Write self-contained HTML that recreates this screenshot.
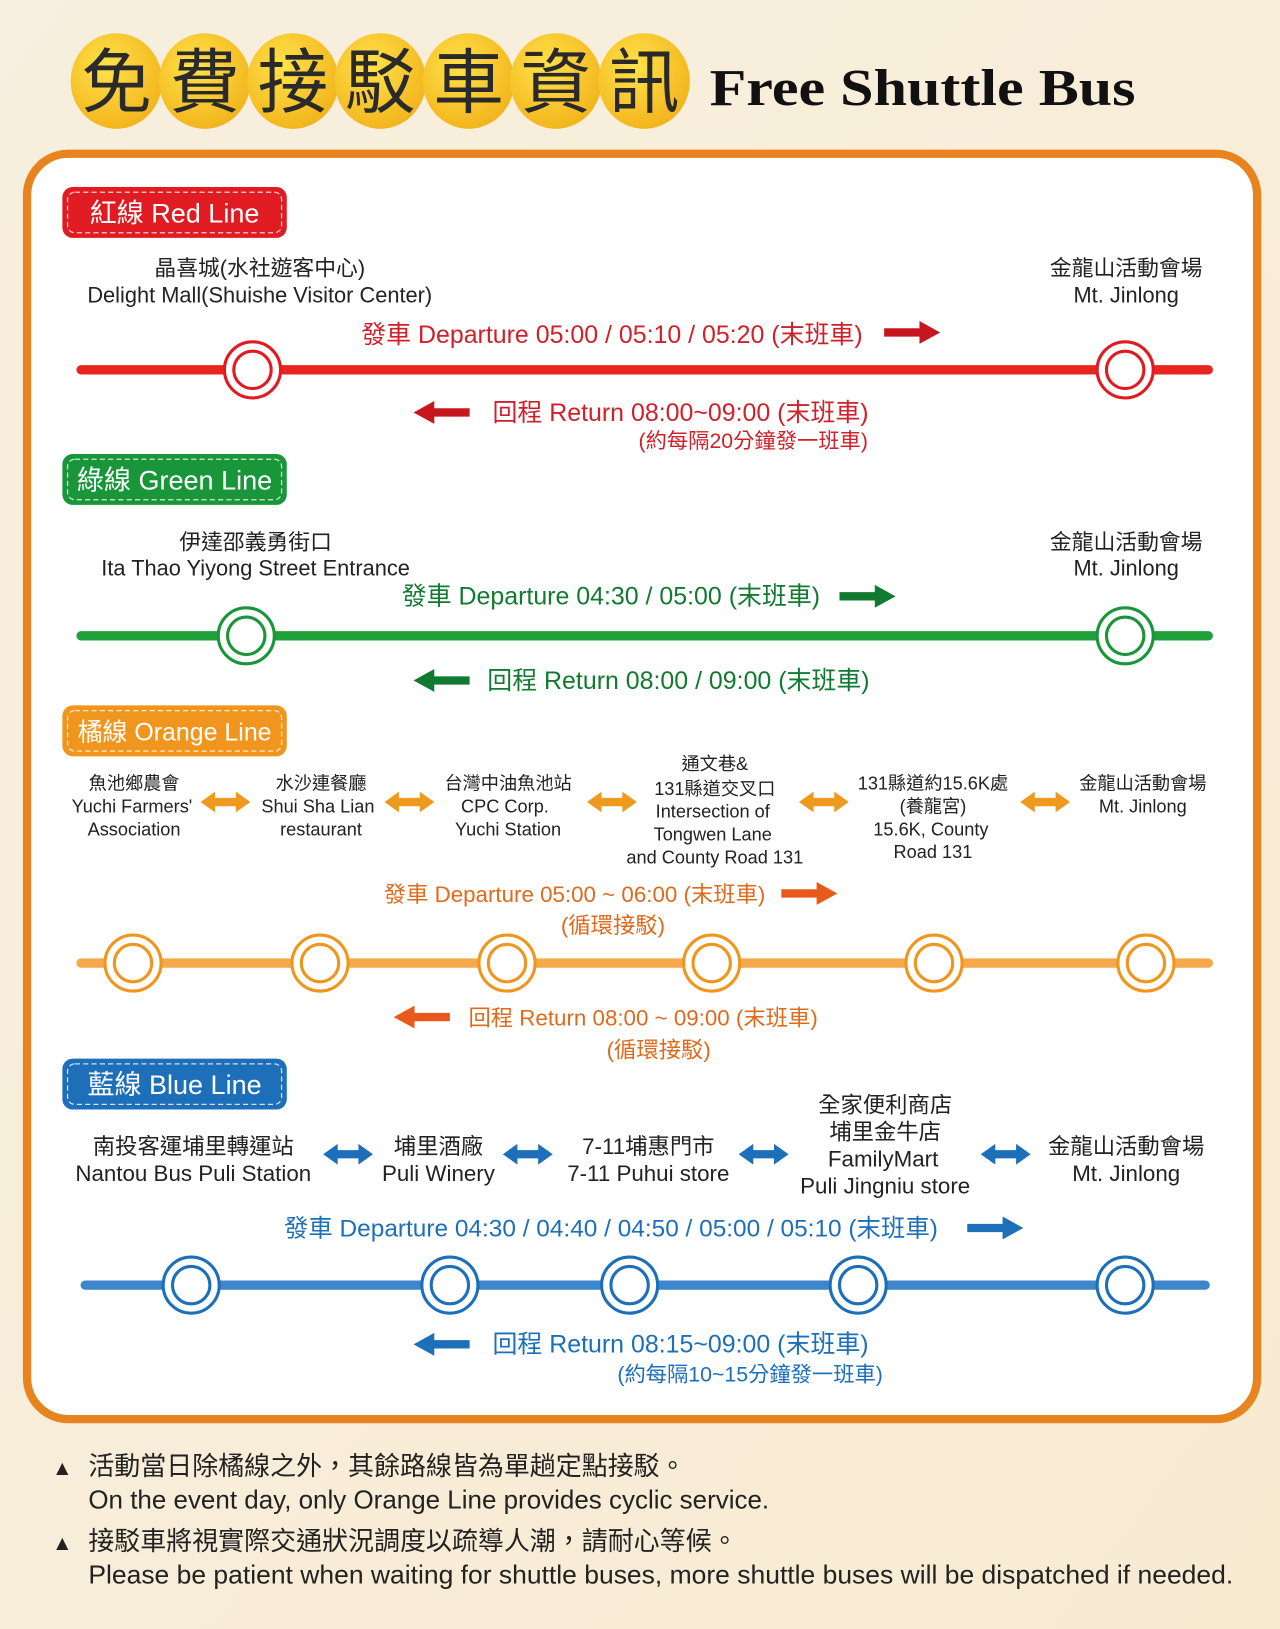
<!DOCTYPE html>
<html><head><meta charset="utf-8"><style>
html,body{margin:0;padding:0;width:1280px;height:1629px;overflow:hidden;background:#f8efdb}
svg{display:block}
text{font-family:"Liberation Sans","Noto Sans CJK TC",sans-serif}
</style></head><body>
<svg width="1280" height="1629" viewBox="0 0 1232 1568" xmlns="http://www.w3.org/2000/svg">
<defs>
<linearGradient id="bg" x1="0" y1="0" x2="1" y2="1"><stop offset="0" stop-color="#f7efdf"/><stop offset="1" stop-color="#f8ebd2"/></linearGradient>
<radialGradient id="yb" cx="0.4" cy="0.35" r="0.7"><stop offset="0" stop-color="#ffe24a"/><stop offset="1" stop-color="#f2b21a"/></radialGradient>
<path id="ra" d="M0,-4 L34,-4 L34,-11 L54,0 L34,11 L34,4 L0,4 Z"/>
<path id="la" d="M0,-4 L-34,-4 L-34,-11 L-54,0 L-34,11 L-34,4 L0,4 Z"/>
<path id="da" d="M0,0 L14,-10 L14,-4 L34,-4 L34,-10 L48,0 L34,10 L34,4 L14,4 L14,10Z"/>
</defs>
<rect width="1232" height="1568" fill="url(#bg)"/>
<g fill="url(#yb)">
<ellipse cx="112" cy="78" rx="44" ry="46"/><ellipse cx="197" cy="78" rx="44" ry="46"/><ellipse cx="282" cy="78" rx="44" ry="46"/><ellipse cx="366" cy="78" rx="44" ry="46"/><ellipse cx="451" cy="78" rx="44" ry="46"/><ellipse cx="535" cy="78" rx="44" ry="46"/><ellipse cx="620" cy="78" rx="44" ry="46"/>
</g>
<g font-size="68" fill="#2a2a2a" text-anchor="middle">
<text x="112" y="103">免</text><text x="197" y="103">費</text><text x="282" y="103">接</text><text x="366" y="103">駁</text><text x="451" y="103">車</text><text x="535" y="103">資</text><text x="620" y="103">訊</text>
</g>
<text x="683" y="101" style="font-family:'Liberation Serif',serif" font-size="50" font-weight="bold" fill="#111" textLength="410" lengthAdjust="spacingAndGlyphs">Free Shuttle Bus</text>
<rect x="26" y="148" width="1184" height="1218" rx="40" fill="#fff" stroke="#e8841f" stroke-width="8"/>

<!-- RED -->
<rect x="60" y="180" width="216" height="49" rx="10" fill="#e01b22"/>
<rect x="65" y="185" width="206" height="39" rx="7" fill="none" stroke="#fff" stroke-width="1.2" stroke-dasharray="5,3" opacity=".8"/>
<text x="168" y="214" font-size="26" fill="#fff" text-anchor="middle">紅線 Red Line</text>
<g font-size="21" fill="#222" text-anchor="middle">
<text x="250" y="265">晶喜城(水社遊客中心)</text><text x="250" y="291">Delight Mall(Shuishe Visitor Center)</text>
<text x="1084" y="265">金龍山活動會場</text><text x="1084" y="291">Mt. Jinlong</text>
</g>
<text x="589" y="330" font-size="24" fill="#d0202a" text-anchor="middle">發車 Departure  05:00 / 05:10 / 05:20 (末班車)</text>
<use href="#ra" x="851" y="320" fill="#c8161e"/>
<line x1="78" y1="356" x2="1163" y2="356" stroke="#e8261f" stroke-width="9" stroke-linecap="round"/>
<g fill="#fff" stroke="#e01b22" stroke-width="3"><circle cx="243" cy="356" r="27"/><circle cx="243" cy="356" r="18"/><circle cx="1083" cy="356" r="27"/><circle cx="1083" cy="356" r="18"/></g>
<use href="#la" x="452" y="397" fill="#c8161e"/>
<text x="655" y="405" font-size="24" fill="#d0202a" text-anchor="middle">回程 Return 08:00~09:00 (末班車)</text>
<text x="725" y="431" font-size="20.5" fill="#d0202a" text-anchor="middle">(約每隔20分鐘發一班車)</text>

<!-- GREEN -->
<rect x="60" y="437" width="216" height="49" rx="10" fill="#19963a"/>
<rect x="65" y="442" width="206" height="39" rx="7" fill="none" stroke="#fff" stroke-width="1.2" stroke-dasharray="5,3" opacity=".8"/>
<text x="168" y="471" font-size="26" fill="#fff" text-anchor="middle">綠線 Green Line</text>
<g font-size="21" fill="#222" text-anchor="middle">
<text x="246" y="529">伊達邵義勇街口</text><text x="246" y="554">Ita Thao Yiyong Street Entrance</text>
<text x="1084" y="529">金龍山活動會場</text><text x="1084" y="554">Mt. Jinlong</text>
</g>
<text x="588" y="582" font-size="24" fill="#127a30" text-anchor="middle">發車 Departure 04:30 / 05:00 (末班車)</text>
<use href="#ra" x="808" y="574" fill="#127a30"/>
<line x1="78" y1="612" x2="1163" y2="612" stroke="#1fa03a" stroke-width="9" stroke-linecap="round"/>
<g fill="#fff" stroke="#19963a" stroke-width="3"><circle cx="237" cy="612" r="27"/><circle cx="237" cy="612" r="18"/><circle cx="1083" cy="612" r="27"/><circle cx="1083" cy="612" r="18"/></g>
<use href="#la" x="452" y="655" fill="#127a30"/>
<text x="653" y="663" font-size="24" fill="#127a30" text-anchor="middle">回程 Return 08:00 / 09:00 (末班車)</text>

<!-- ORANGE -->
<rect x="60" y="679" width="216" height="49" rx="10" fill="#f0961e"/>
<rect x="65" y="684" width="206" height="39" rx="7" fill="none" stroke="#fff" stroke-width="1.2" stroke-dasharray="5,3" opacity=".8"/>
<text x="168" y="713" font-size="24" fill="#fff" text-anchor="middle">橘線 Orange Line</text>
<g font-size="17.5" fill="#222" text-anchor="middle">
<text x="129" y="760">魚池鄉農會</text><text x="127" y="782">Yuchi Farmers'</text><text x="129" y="804">Association</text>
<text x="309" y="760">水沙連餐廳</text><text x="306" y="782">Shui Sha Lian</text><text x="309" y="804">restaurant</text>
<text x="489" y="760">台灣中油魚池站</text><text x="486" y="782">CPC Corp.</text><text x="489" y="804">Yuchi Station</text>
<text x="688" y="741">通文巷&amp;</text><text x="688" y="765">131縣道交叉口</text><text x="686" y="787">Intersection of</text><text x="686" y="809">Tongwen Lane</text><text x="688" y="831">and County Road 131</text>
<text x="898" y="760">131縣道約15.6K處</text><text x="898" y="782">(養龍宮)</text><text x="896" y="804">15.6K, County</text><text x="898" y="826">Road 131</text>
<text x="1100" y="760">金龍山活動會場</text><text x="1100" y="782">Mt. Jinlong</text>
</g>
<g fill="#ee9a1e"><use href="#da" x="193" y="772"/><use href="#da" x="370" y="772"/><use href="#da" x="565" y="772"/><use href="#da" x="769" y="772"/><use href="#da" x="982" y="772"/></g>
<text x="553" y="868" font-size="21.5" fill="#e06a1c" text-anchor="middle">發車 Departure 05:00 ~ 06:00 (末班車)</text>
<use href="#ra" x="752" y="860" fill="#e85a1c"/>
<text x="590" y="898" font-size="21.5" fill="#e06a1c" text-anchor="middle">(循環接駁)</text>
<line x1="78" y1="927" x2="1163" y2="927" stroke="#f6a84a" stroke-width="9" stroke-linecap="round"/>
<g fill="#fff" stroke="#f0961e" stroke-width="3"><circle cx="128" cy="927" r="27"/><circle cx="128" cy="927" r="18"/><circle cx="308" cy="927" r="27"/><circle cx="308" cy="927" r="18"/><circle cx="488" cy="927" r="27"/><circle cx="488" cy="927" r="18"/><circle cx="685" cy="927" r="27"/><circle cx="685" cy="927" r="18"/><circle cx="899" cy="927" r="27"/><circle cx="899" cy="927" r="18"/><circle cx="1103" cy="927" r="27"/><circle cx="1103" cy="927" r="18"/></g>
<use href="#la" x="433" y="979" fill="#e85a1c"/>
<text x="619" y="987" font-size="21.5" fill="#e06a1c" text-anchor="middle">回程 Return 08:00 ~ 09:00 (末班車)</text>
<text x="634" y="1018" font-size="21.5" fill="#e06a1c" text-anchor="middle">(循環接駁)</text>

<!-- BLUE -->
<rect x="60" y="1019" width="216" height="49" rx="10" fill="#1c6fb8"/>
<rect x="65" y="1024" width="206" height="39" rx="7" fill="none" stroke="#fff" stroke-width="1.2" stroke-dasharray="5,3" opacity=".8"/>
<text x="168" y="1053" font-size="26" fill="#fff" text-anchor="middle">藍線 Blue Line</text>
<g font-size="21.5" fill="#222" text-anchor="middle">
<text x="186" y="1111">南投客運埔里轉運站</text><text x="186" y="1137">Nantou Bus Puli Station</text>
<text x="422" y="1111">埔里酒廠</text><text x="422" y="1137">Puli Winery</text>
<text x="624" y="1111">7-11埔惠門市</text><text x="624" y="1137">7-11 Puhui store</text>
<text x="852" y="1071">全家便利商店</text><text x="852" y="1097">埔里金牛店</text><text x="850" y="1123">FamilyMart</text><text x="852" y="1149">Puli Jingniu store</text>
<text x="1084" y="1111">金龍山活動會場</text><text x="1084" y="1137">Mt. Jinlong</text>
</g>
<g fill="#1c6fb8"><use href="#da" x="311" y="1111"/><use href="#da" x="484" y="1111"/><use href="#da" x="711" y="1111"/><use href="#da" x="944" y="1111"/></g>
<text x="588" y="1190" font-size="23.5" fill="#1c6fb8" text-anchor="middle">發車 Departure 04:30 / 04:40 / 04:50 / 05:00 / 05:10 (末班車)</text>
<use href="#ra" x="931" y="1182" fill="#1c6fb8"/>
<line x1="82" y1="1237" x2="1160" y2="1237" stroke="#3d86cc" stroke-width="9" stroke-linecap="round"/>
<g fill="#fff" stroke="#1c6fb8" stroke-width="3"><circle cx="184" cy="1237" r="27"/><circle cx="184" cy="1237" r="18"/><circle cx="433" cy="1237" r="27"/><circle cx="433" cy="1237" r="18"/><circle cx="606" cy="1237" r="27"/><circle cx="606" cy="1237" r="18"/><circle cx="826" cy="1237" r="27"/><circle cx="826" cy="1237" r="18"/><circle cx="1083" cy="1237" r="27"/><circle cx="1083" cy="1237" r="18"/></g>
<use href="#la" x="452" y="1294" fill="#1c6fb8"/>
<text x="655" y="1302" font-size="24" fill="#1c6fb8" text-anchor="middle">回程 Return 08:15~09:00 (末班車)</text>
<text x="722" y="1330" font-size="20.5" fill="#1c6fb8" text-anchor="middle">(約每隔10~15分鐘發一班車)</text>

<!-- notes -->
<g font-size="25" fill="#222">
<text x="50" y="1420" font-size="20">▲</text><text x="85" y="1420">活動當日除橘線之外，其餘路線皆為單趟定點接駁。</text>
<text x="85" y="1452">On the event day, only Orange Line provides cyclic service.</text>
<text x="50" y="1492" font-size="20">▲</text><text x="85" y="1492">接駁車將視實際交通狀況調度以疏導人潮，請耐心等候。</text>
<text x="85" y="1524" textLength="1102" lengthAdjust="spacingAndGlyphs">Please be patient when waiting for shuttle buses, more shuttle buses will be dispatched if needed.</text>
</g>
</svg>
</body></html>
